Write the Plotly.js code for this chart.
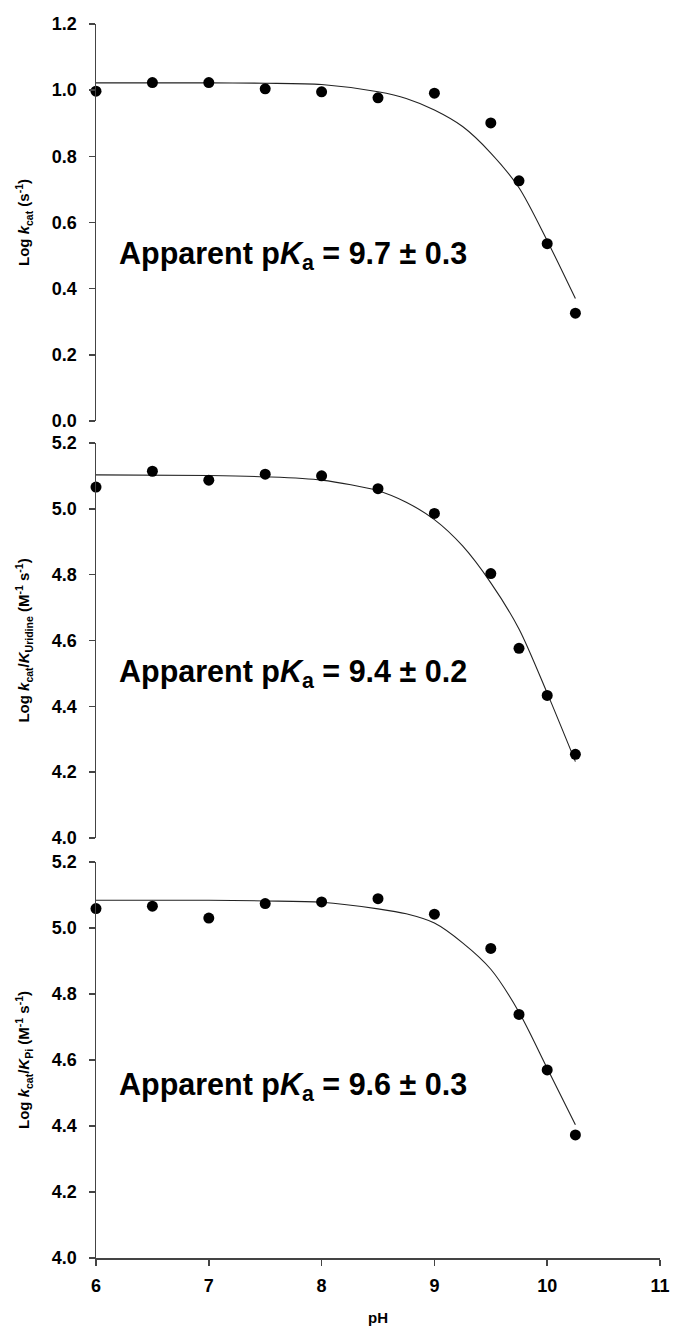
<!DOCTYPE html>
<html>
<head>
<meta charset="utf-8">
<script src="https://cdn.plot.ly/plotly-3.0.1.min.js"></script>
<style>html,body{margin:0;padding:0;background:#fff;}#chart{width:674px;height:1332px;}</style>
</head>
<body>
<div id="chart"></div>
<script>
// Measured data (pH vs log values)
const pH = [6, 6.5, 7, 7.5, 8, 8.5, 9, 9.5, 9.75, 10, 10.25];
const logKcat = [0.997, 1.023, 1.023, 1.004, 0.995, 0.977, 0.991, 0.901, 0.726, 0.536, 0.326];
const logKcatKUridine = [5.066, 5.114, 5.087, 5.105, 5.100, 5.061, 4.986, 4.803, 4.576, 4.433, 4.254];
const logKcatKPi = [5.059, 5.066, 5.030, 5.074, 5.079, 5.089, 5.042, 4.938, 4.738, 4.570, 4.373];

// Fitted curves
const fitPH = [6, 7, 7.5, 8, 8.5, 8.75, 9, 9.25, 9.5, 9.75, 10, 10.25];
const fitKcat = [1.022, 1.022, 1.021, 1.017, 0.995, 0.975, 0.940, 0.890, 0.810, 0.705, 0.545, 0.370];
const fitUridine = [5.103, 5.101, 5.097, 5.087, 5.055, 5.020, 4.967, 4.887, 4.775, 4.635, 4.440, 4.232];
const fitPi = [5.084, 5.084, 5.082, 5.078, 5.058, 5.043, 5.015, 4.955, 4.875, 4.745, 4.575, 4.404];

const pKaLabels = ["9.7 ± 0.3", "9.4 ± 0.2", "9.6 ± 0.3"];
const yTitles = [
  "<b>Log <i>k</i><sub>cat</sub> (s<sup>-1</sup>)</b>",
  "<b>Log <i>k</i><sub>cat</sub>/<i>K</i><sub>Uridine</sub> (M<sup>-1</sup> s<sup>-1</sup>)</b>",
  "<b>Log <i>k</i><sub>cat</sub>/<i>K</i><sub>Pi</sub> (M<sup>-1</sup> s<sup>-1</sup>)</b>"
];
const xTickVals = [6, 7, 8, 9, 10, 11];

const FONT = "Liberation Sans, Arial, sans-serif";
const panels = [
  {pts: logKcat, fit: fitKcat, xa: 'x', ya: 'y'},
  {pts: logKcatKUridine, fit: fitUridine, xa: 'x2', ya: 'y2'},
  {pts: logKcatKPi, fit: fitPi, xa: 'x3', ya: 'y3'}
];
const traces = [];
panels.forEach(p => {
  traces.push({x: fitPH, y: p.fit, xaxis: p.xa, yaxis: p.ya, mode: 'lines',
    line: {color: '#222', width: 1.1, shape: 'spline', smoothing: 0.8}, hoverinfo: 'skip'});
  traces.push({x: pH, y: p.pts, xaxis: p.xa, yaxis: p.ya, mode: 'markers', cliponaxis: false,
    marker: {color: '#000', size: 11, symbol: 'circle'}});
});

function yax(domain, range, title) {
  return {
    domain: domain, range: range, dtick: 0.2, tick0: 0, tickformat: '.1f',
    showline: true, linecolor: '#444', linewidth: 1.5, ticks: 'outside', ticklen: 6,
    tickwidth: 1.5, tickcolor: '#444', showgrid: false, zeroline: false,
    ticklabelstandoff: 8,
    tickfont: {family: FONT, size: 18, color: '#000', weight: 700},
    title: {text: title, font: {family: FONT, size: 15, color: '#000'}, standoff: 18}
  };
}
function hiddenX(anchor) {
  return {anchor: anchor, range: [6, 11], visible: false, showgrid: false, zeroline: false};
}

const layout = {
  width: 674, height: 1332,
  margin: {l: 96, r: 14, t: 24, b: 74},
  paper_bgcolor: '#fff', plot_bgcolor: '#fff',
  showlegend: false,
  font: {family: FONT, color: '#000'},
  xaxis: hiddenX('y'),
  xaxis2: hiddenX('y2'),
  xaxis3: {
    anchor: 'y3', range: [6, 11], tickvals: xTickVals,
    showline: true, linecolor: '#444', linewidth: 1.5, ticks: 'outside', ticklen: 6,
    tickwidth: 1.5, tickcolor: '#444', showgrid: false, zeroline: false,
    ticklabelstandoff: 5,
    tickfont: {family: FONT, size: 18, color: '#000', weight: 700},
    title: {text: '<b>pH</b>', font: {family: FONT, size: 15, color: '#000'}, standoff: 17}
  },
  yaxis: yax([0.6783, 1], [0, 1.2], yTitles[0]),
  yaxis2: yax([0.3404, 0.6605], [4.0, 5.2], yTitles[1]),
  yaxis3: yax([0, 0.3209], [4.0, 5.2], yTitles[2]),
  annotations: [
    {yref: 'y', y: 0.5},
    {yref: 'y2', y: 4.50},
    {yref: 'y3', y: 4.52}
  ].map((a, i) => ({
    xref: 'paper', x: 0.037, xanchor: 'left', yref: a.yref, y: a.y, yanchor: 'middle',
    showarrow: false,
    text: '<b>Apparent p<i>K</i><sub>a</sub> = ' + pKaLabels[i] + '</b>',
    font: {family: FONT, size: 30.5, color: '#000'}
  }))
};

Plotly.newPlot('chart', traces, layout, {displayModeBar: false, staticPlot: true});
</script>
</body>
</html>
